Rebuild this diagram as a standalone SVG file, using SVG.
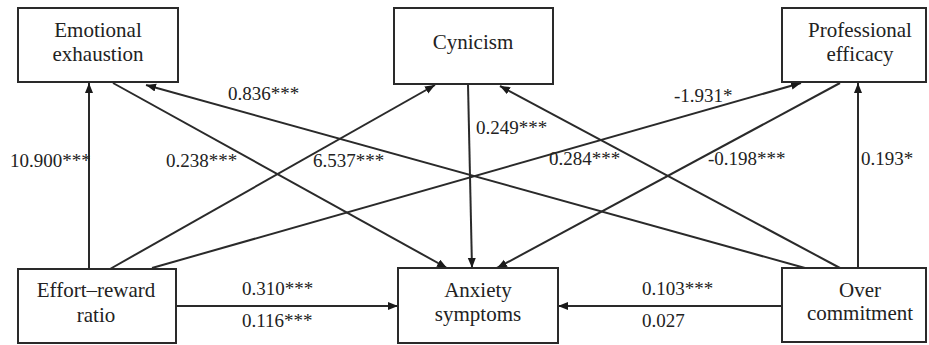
<svg xmlns="http://www.w3.org/2000/svg" width="929" height="345" viewBox="0 0 929 345">
<defs>
<marker id="ah" markerUnits="userSpaceOnUse" markerWidth="11" markerHeight="9" refX="10" refY="4" orient="auto">
<path d="M0,0 L10,4 L0,8 z" fill="#1a1a1a"/>
</marker>
</defs>
<rect width="929" height="345" fill="#fff"/>
<g id="connectors" stroke="#2a2a2a" stroke-width="2" fill="none" marker-end="url(#ah)">
<line x1="89" y1="269" x2="89" y2="83"/>
<line x1="113" y1="83" x2="447" y2="268"/>
<line x1="110" y1="269" x2="435" y2="85"/>
<line x1="152" y1="268" x2="801" y2="83"/>
<line x1="468" y1="84" x2="472" y2="268"/>
<line x1="805" y1="268" x2="146" y2="85"/>
<line x1="840" y1="268" x2="500" y2="86"/>
<line x1="840" y1="83" x2="497" y2="268"/>
<line x1="858" y1="268" x2="858" y2="83"/>
<line x1="176" y1="306" x2="398" y2="306"/>
<line x1="782" y1="306" x2="558" y2="306"/>
</g>
<g id="labels" fill="#222">
<text x="228" y="100" font-size="19" font-family="Liberation Serif, Tinos, Times New Roman, serif">0.836***</text>
<text x="10" y="167" font-size="19" font-family="Liberation Serif, Tinos, Times New Roman, serif">10.900***</text>
<text x="166" y="167" font-size="19" font-family="Liberation Serif, Tinos, Times New Roman, serif">0.238***</text>
<text x="313" y="167" font-size="19" font-family="Liberation Serif, Tinos, Times New Roman, serif">6.537***</text>
<text x="476" y="134" font-size="19" font-family="Liberation Serif, Tinos, Times New Roman, serif">0.249***</text>
<text x="674" y="102" font-size="19" font-family="Liberation Serif, Tinos, Times New Roman, serif">-1.931*</text>
<text x="549" y="165" font-size="19" font-family="Liberation Serif, Tinos, Times New Roman, serif">0.284***</text>
<text x="708" y="165" font-size="19" font-family="Liberation Serif, Tinos, Times New Roman, serif">-0.198***</text>
<text x="861" y="165" font-size="19" font-family="Liberation Serif, Tinos, Times New Roman, serif">0.193*</text>
<text x="242" y="295" font-size="19" font-family="Liberation Serif, Tinos, Times New Roman, serif">0.310***</text>
<text x="242" y="327" font-size="19" font-family="Liberation Serif, Tinos, Times New Roman, serif">0.116***</text>
<text x="642" y="295" font-size="19" font-family="Liberation Serif, Tinos, Times New Roman, serif">0.103***</text>
<text x="642" y="327" font-size="19" font-family="Liberation Serif, Tinos, Times New Roman, serif">0.027</text>
</g>
<g id="emotional-exhaustion">
<rect x="18" y="8" width="160" height="74" fill="#fff" stroke="#2a2a2a" stroke-width="2"/>
<text x="98" y="37" fill="#222" text-anchor="middle" font-size="21" font-family="Liberation Serif, Tinos, Times New Roman, serif">Emotional</text>
<text x="98" y="61" fill="#222" text-anchor="middle" font-size="21" font-family="Liberation Serif, Tinos, Times New Roman, serif">exhaustion</text>
</g>
<g id="cynicism">
<rect x="394" y="8" width="159" height="76" fill="#fff" stroke="#2a2a2a" stroke-width="2"/>
<text x="473" y="49" fill="#222" text-anchor="middle" font-size="21" font-family="Liberation Serif, Tinos, Times New Roman, serif">Cynicism</text>
</g>
<g id="professional-efficacy">
<rect x="782" y="8" width="144" height="74" fill="#fff" stroke="#2a2a2a" stroke-width="2"/>
<text x="860" y="37" fill="#222" text-anchor="middle" font-size="21" font-family="Liberation Serif, Tinos, Times New Roman, serif">Professional</text>
<text x="860" y="61" fill="#222" text-anchor="middle" font-size="21" font-family="Liberation Serif, Tinos, Times New Roman, serif">efficacy</text>
</g>
<g id="effort-reward-ratio">
<rect x="18" y="269" width="158" height="74" fill="#fff" stroke="#2a2a2a" stroke-width="2"/>
<text x="96" y="297" fill="#222" text-anchor="middle" font-size="21" font-family="Liberation Serif, Tinos, Times New Roman, serif">Effort–reward</text>
<text x="96" y="322" fill="#222" text-anchor="middle" font-size="21" font-family="Liberation Serif, Tinos, Times New Roman, serif">ratio</text>
</g>
<g id="anxiety-symptoms">
<rect x="398" y="268" width="160" height="75" fill="#fff" stroke="#2a2a2a" stroke-width="2"/>
<text x="478" y="297" fill="#222" text-anchor="middle" font-size="21" font-family="Liberation Serif, Tinos, Times New Roman, serif">Anxiety</text>
<text x="478" y="321" fill="#222" text-anchor="middle" font-size="21" font-family="Liberation Serif, Tinos, Times New Roman, serif">symptoms</text>
</g>
<g id="over-commitment">
<rect x="782" y="268" width="144" height="74" fill="#fff" stroke="#2a2a2a" stroke-width="2"/>
<text x="860" y="297" fill="#222" text-anchor="middle" font-size="21" font-family="Liberation Serif, Tinos, Times New Roman, serif">Over</text>
<text x="860" y="320" fill="#222" text-anchor="middle" font-size="21" font-family="Liberation Serif, Tinos, Times New Roman, serif">commitment</text>
</g>
</svg>
